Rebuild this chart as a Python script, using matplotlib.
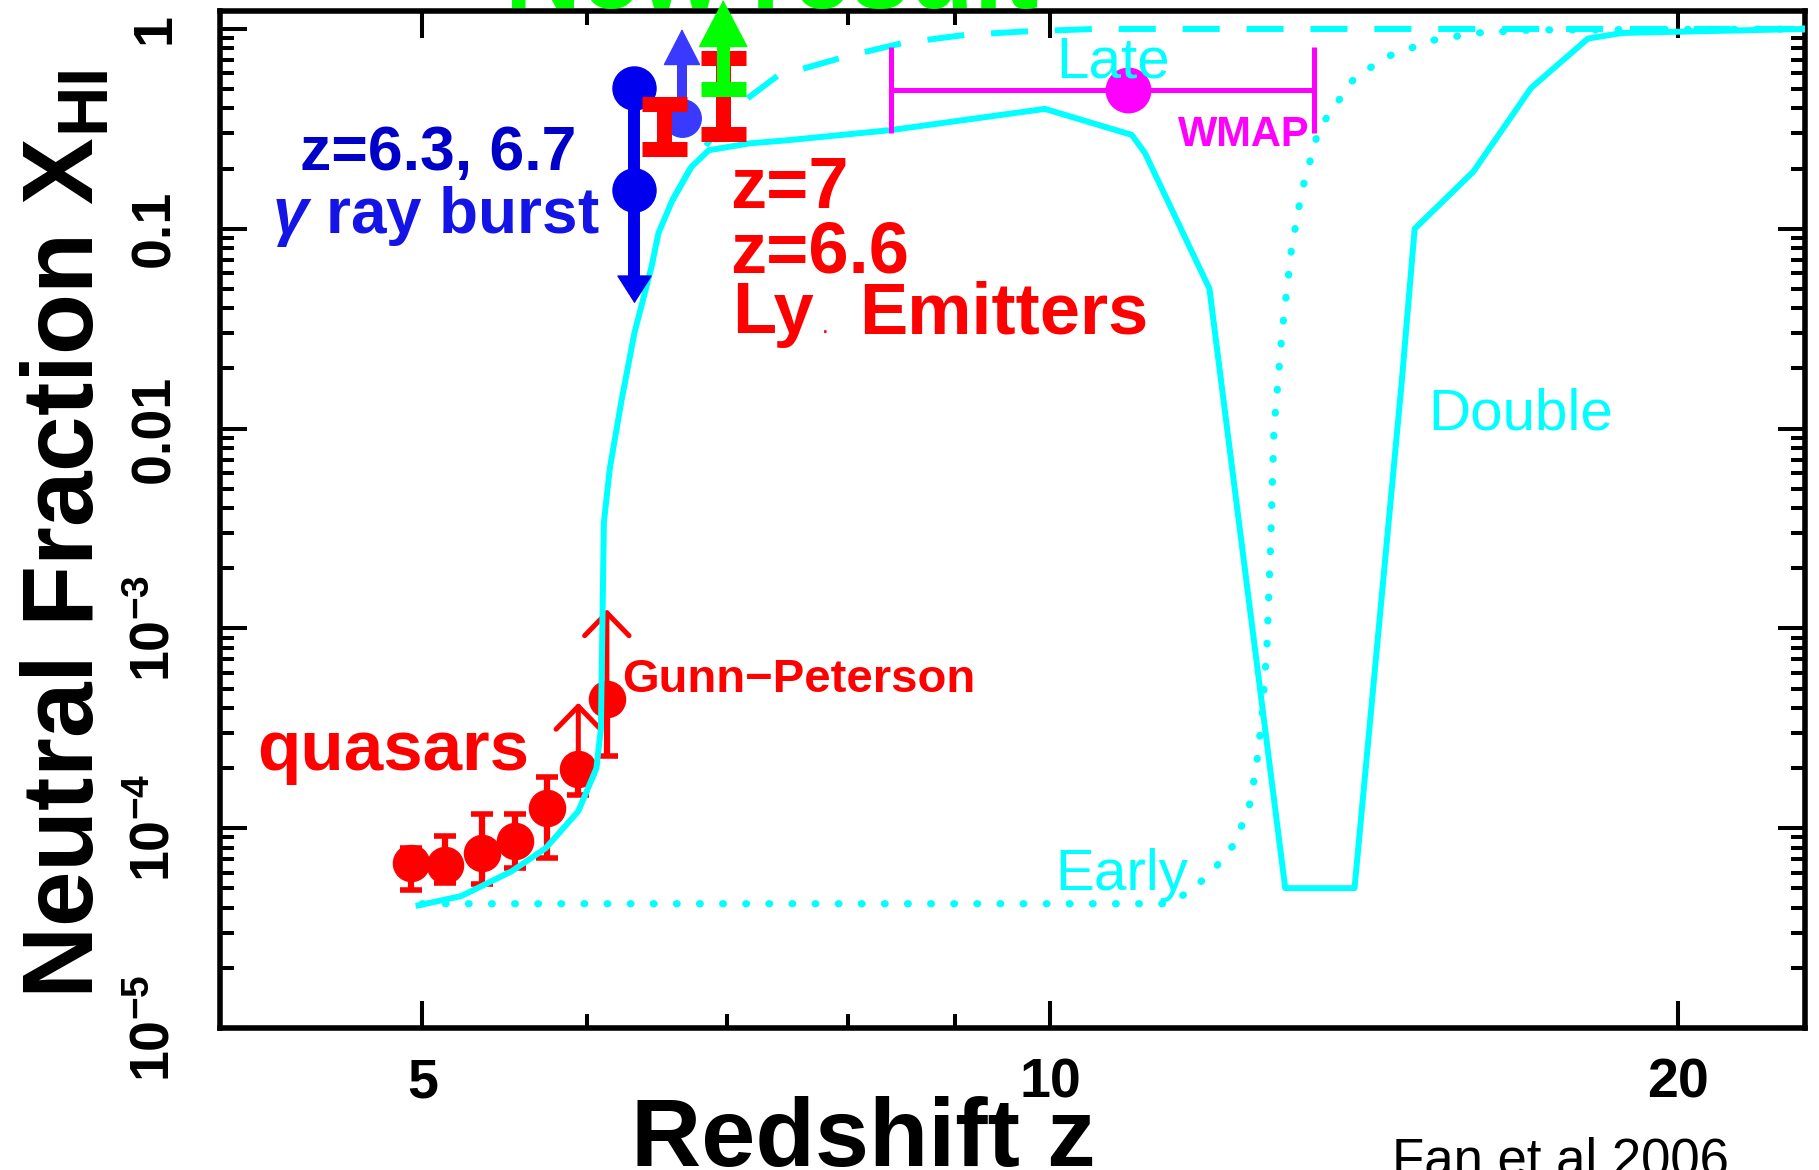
import numpy as np
import matplotlib
matplotlib.use('Agg')
import matplotlib.pyplot as plt
from matplotlib.ticker import NullFormatter, LogLocator

plt.rcParams['font.family'] = ['Liberation Sans', 'DejaVu Sans']
plt.rcParams['mathtext.fontset'] = 'custom'
plt.rcParams['mathtext.rm'] = 'Liberation Sans:bold'
plt.rcParams['mathtext.bf'] = 'Liberation Sans:bold'
plt.rcParams['mathtext.it'] = 'Liberation Sans:bold:italic'

# model curves: redshift and log10 of neutral fraction
z_double = [4.98, 5.22, 5.52, 5.73, 5.94, 6.06, 6.09, 6.11, 6.15, 6.23, 6.32, 6.44, 6.49,
            6.59, 6.73, 6.86, 7.17, 7.5, 8.39, 9.94, 10.94, 11.1, 11.92, 12.96, 13.99,
            14.74, 14.95, 15.95, 17.0, 18.1, 18.8, 23.0]
logx_double = [-4.386, -4.34, -4.215, -4.10, -3.915, -3.70, -3.50, -2.47, -2.2, -1.86, -1.52,
               -1.19, -1.02, -0.857, -0.69, -0.607, -0.573, -0.556, -0.506, -0.40, -0.53,
               -0.62, -1.30, -4.30, -4.30, -1.76, -1.0, -0.714, -0.295, -0.048, -0.02, 0.0]

z_late = [6.59, 6.72, 6.82, 7.05, 7.4, 8.0, 8.5, 9.1, 9.7, 10.5, 23.0]
logx_late = [-0.857, -0.70, -0.60, -0.40, -0.235, -0.135, -0.07, -0.03, -0.013, 0.0, 0.0]

z_early = [5.0, 11.38, 11.65, 11.95, 12.25, 12.45, 12.55, 12.63, 12.7, 12.75, 12.8, 12.92,
           13.05, 13.2, 13.45, 14.0, 14.55, 15.25, 16.0, 17.0, 23.0]
logx_early = [-4.378, -4.378, -4.32, -4.22, -4.08, -3.9, -3.7, -3.45, -3.1, -2.6, -2.0, -1.5,
              -1.1, -0.81, -0.5, -0.24, -0.133, -0.057, -0.02, -0.005, 0.0]

# quasars (Gunn-Peterson)
z_qso = [4.94, 5.13, 5.34, 5.54, 5.74, 5.94, 6.13]
logx_qso = [-4.174, -4.182, -4.124, -4.065, -3.898, -3.706, -3.355]
logx_qso_lo = [-4.307, -4.274, -4.279, -4.199, -4.149, -3.834, -3.639]
logx_qso_hi = [-4.10, -4.04, -3.931, -3.931, -3.744, -3.706, -3.355]
z_qso_lim = [5.94, 6.13]
logx_qso_lim = [-3.372, -2.904]

# gamma ray bursts
z_grb = [6.32, 6.32]
logx_grb = [-0.297, -0.807]
logx_grb_tip = -1.373
z_grb2 = 6.66
logx_grb2 = -0.448
logx_grb2_tip = 0.0

# Ly alpha emitters
z_lae = [6.53, 6.97]
logx_lae_lo = [-0.602, -0.527]
logx_lae_hi = [-0.377, -0.143]

# new result (lower limit)
z_new = 6.97
logx_new = -0.302
logx_new_tip = 0.145

# WMAP
z_wmap = 10.9
z_wmap_lo = 8.39
z_wmap_hi = 13.38
logx_wmap = -0.306

CYAN = '#00ffff'
RED = '#ff0000'

fig = plt.figure(figsize=(18.19, 11.70), dpi=100)
ax = fig.add_axes([0.12095, 0.12137, 0.87136, 0.86923])
ax.set_xscale('log')
ax.set_yscale('log')
ax.set_xlim(4.0, 23.0)
ax.set_ylim(1e-5, 1.23)

p = lambda v: 10 ** np.asarray(v, dtype=float)

ax.plot(z_double, p(logx_double), color=CYAN, lw=4.3, zorder=4)
ax.plot(z_late, p(logx_late), color=CYAN, lw=4.3, ls=(0, (6.2, 4.5)), zorder=4)
ax.plot(z_early, p(logx_early), color=CYAN, lw=5.2, ls=(0, (0.1, 3.1)),
        dash_capstyle='round', zorder=4)

# quasars
yq = p(logx_qso)
ax.errorbar(z_qso, yq, yerr=[yq - p(logx_qso_lo), p(logx_qso_hi) - yq], fmt='o',
            color=RED, ms=26, elinewidth=4.5, capsize=8, capthick=4, zorder=3)
for zq, lq, lt in zip(z_qso_lim, [logx_qso[5], logx_qso[6]], logx_qso_lim):
    ax.annotate('', xy=(zq, p(lt)), xytext=(zq, p(lq)),
                arrowprops=dict(arrowstyle='->,head_length=16.5,head_width=16',
                                mutation_scale=1, color=RED, lw=3.6, shrinkA=0, shrinkB=0),
                zorder=3)

# gamma ray bursts
ax.plot([z_grb[0], z_grb[0]], [p(logx_grb[0]), p(logx_grb_tip + 0.1)], color='#0000ee',
        lw=8.6, solid_capstyle='butt', zorder=5)
ax.plot(z_grb, p(logx_grb), 'o', color='#0000ee', ms=31, zorder=5)
ax.annotate('', xy=(z_grb[0], p(logx_grb_tip)), xytext=(z_grb[0], p(logx_grb[1])),
            arrowprops=dict(arrowstyle='-|>,head_length=18.7,head_width=11.9',
                            mutation_scale=1, color='#0000ee', lw=1, shrinkA=0, shrinkB=0),
            zorder=5)

ax.plot([z_grb2, z_grb2], [p(logx_grb2), p(logx_grb2_tip - 0.1)], color='#3a3aff',
        lw=7.2, solid_capstyle='butt', zorder=5)
ax.plot([z_grb2], [p(logx_grb2)], 'o', color='#3a3aff', ms=27, zorder=5)
ax.annotate('', xy=(z_grb2, p(logx_grb2_tip)), xytext=(z_grb2, p(logx_grb2)),
            arrowprops=dict(arrowstyle='-|>,head_length=24.5,head_width=12.6',
                            mutation_scale=1, color='#3a3aff', lw=1, shrinkA=0, shrinkB=0),
            zorder=5)

# Ly alpha emitters
for zl, lo, hi in zip(z_lae, logx_lae_lo, logx_lae_hi):
    yc = p((lo + hi) / 2)
    ax.errorbar([zl], [yc], yerr=[[yc - p(lo)], [p(hi) - yc]],
                fmt='none', ecolor=RED, elinewidth=10.8, capsize=16.2, capthick=10.8, zorder=6)

# new result
ax.plot([z_new], [p(logx_new)], marker='_', ms=32.4, mew=10.8, color='#00ff00', zorder=7)
ax.plot([z_new, z_new], [p(logx_new), p(logx_new_tip - 0.12)], color='#00ff00', lw=9.4,
        solid_capstyle='butt', zorder=7, clip_on=False)
ax.annotate('', xy=(z_new, p(logx_new_tip)), xytext=(z_new, p(logx_new)),
            arrowprops=dict(arrowstyle='-|>,head_length=32.4,head_width=17',
                            mutation_scale=1, color='#00ff00', lw=1, shrinkA=0, shrinkB=0),
            annotation_clip=False, zorder=7)

# WMAP
ax.errorbar([z_wmap], [p(logx_wmap)], xerr=[[z_wmap - z_wmap_lo], [z_wmap_hi - z_wmap]],
            fmt='o', color='#ff00ff', ms=32, elinewidth=3.6, capsize=31, capthick=3.6, zorder=5)

# axes formatting
ax.set_xticks([5, 10, 20])
ax.set_xticklabels(['5', '10', '20'])
ax.set_xticks([6, 7, 8, 9], minor=True)
ax.xaxis.set_minor_formatter(NullFormatter())
ax.set_yticks([1e-5, 1e-4, 1e-3, 1e-2, 1e-1, 1])
ax.set_yticklabels(['$10^{-5}$', '$10^{-4}$', '$10^{-3}$', '0.01', '0.1', '1'])
ax.yaxis.set_minor_locator(LogLocator(base=10, subs=np.arange(2, 10), numticks=20))
ax.yaxis.set_minor_formatter(NullFormatter())
ax.tick_params(which='both', direction='in', top=True, right=True, width=2.9)
ax.tick_params(which='major', length=19.4)
ax.tick_params(which='minor', length=10)
ax.tick_params(axis='x', labelsize=40, pad=21)
ax.tick_params(axis='y', labelsize=40, pad=28, labelrotation=90)
for lab in ax.get_xticklabels() + ax.get_yticklabels():
    lab.set_fontweight('bold')
for lab in ax.get_yticklabels():
    lab.set_va('center')
for s in ax.spines.values():
    s.set_linewidth(4)

def fx(x):
    return x / 1819.0

def fy(y):
    return 1 - y / 1170.0

# labels
fig.text(fx(67), fy(534), 'Neutral Fraction X$_{\\mathbf{HI}}$', rotation=90, ha='center',
         va='center', fontsize=72, fontweight='bold')
fig.text(fx(863), fy(1166), 'Redshift z', ha='center', va='baseline', fontsize=70,
         fontweight='bold')
fig.text(fx(1392), fy(1175), 'Fan et al.2006', ha='left', va='baseline', fontsize=38)
fig.text(fx(505), fy(8), 'New result', ha='left', va='baseline', fontsize=76,
         fontweight='bold', color='#00ff00')

fig.text(fx(300), fy(170), 'z=6.3, 6.7', fontsize=45, fontweight='bold', color='#0000c8')
fig.text(fx(272), fy(233), '$\\gamma$ ray burst', fontsize=46, fontweight='bold', color='#1414e6')
fig.text(fx(730), fy(208), 'z=7', fontsize=52, fontweight='bold', color=RED)
fig.text(fx(730), fy(272), 'z=6.6', fontsize=52, fontweight='bold', color=RED)
fig.text(fx(732), fy(333), 'Ly', fontsize=52, fontweight='bold', color=RED)
fig.text(fx(823), fy(333), '.', fontsize=12, fontweight='bold', color=RED)
fig.text(fx(859), fy(333), 'Emitters', fontsize=52, fontweight='bold', color=RED)
fig.text(fx(257), fy(770), 'quasars', fontsize=51, fontweight='bold', color=RED)
fig.text(fx(622), fy(692), 'Gunn\u2212Peterson', fontsize=34, fontweight='bold', color=RED)

fig.text(fx(1056), fy(77), 'Late', fontsize=42, color=CYAN)
fig.text(fx(1055), fy(890), 'Early', fontsize=42, color=CYAN)
fig.text(fx(1428), fy(430), 'Double', fontsize=42, color=CYAN)
fig.text(fx(1178), fy(146), 'WMAP', fontsize=30, fontweight='bold', color='#ff00ff')

fig.savefig('out.png', dpi=100)
